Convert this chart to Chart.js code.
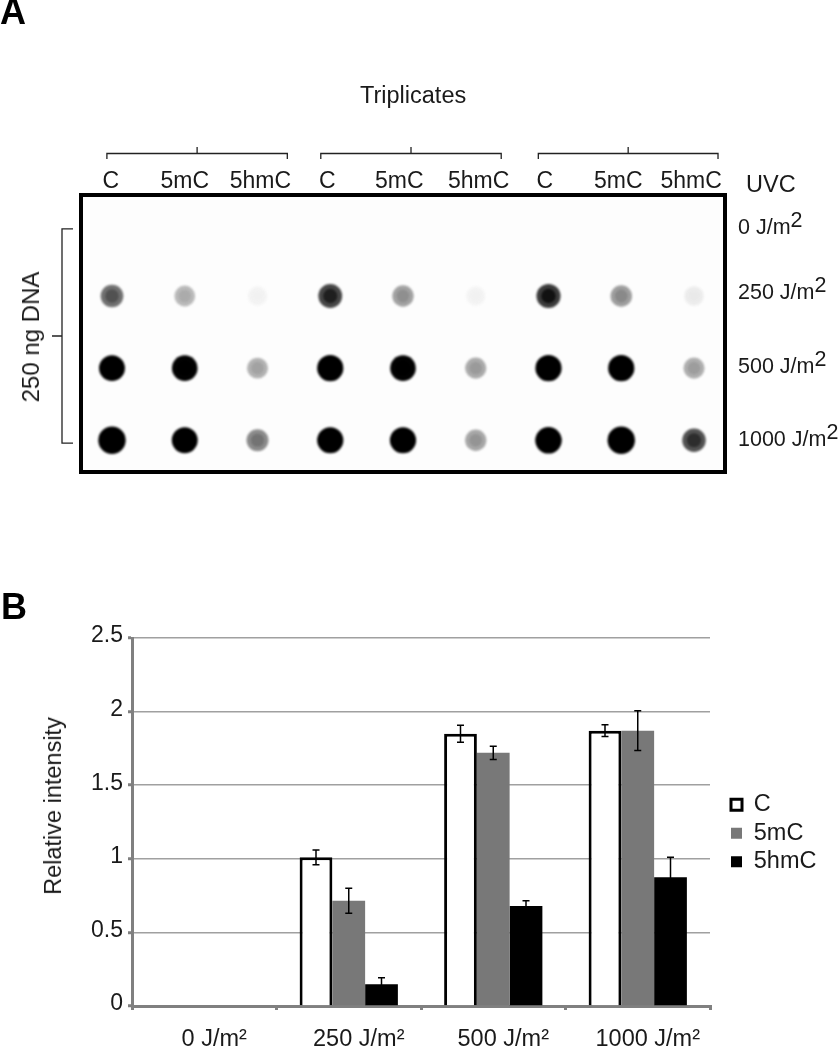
<!DOCTYPE html>
<html>
<head>
<meta charset="utf-8">
<title>Dot blot and relative intensity</title>
<script src="https://cdn.jsdelivr.net/npm/chart.js@4"></script>
<style>
    html, body { margin: 0; background: #fff; }
    #page { position: relative; width: 840px; height: 1050px; overflow: hidden; font-family: "Liberation Sans", Arial, sans-serif; color: #1a1a1a; }
    canvas { position: absolute; left: 0; }
    .note { position: absolute; font-size: 23.5px; line-height: 26px; white-space: nowrap; }
    .panel { position: absolute; font-size: 36px; line-height: 36px; font-weight: bold; color: #000; }
    .turn { transform: translate(-50%, -50%) rotate(-90deg); }
</style>
</head>
<body>
<div id="page">
    <canvas id="blot" width="840" height="500" style="top:0"></canvas>
    <canvas id="bars" width="840" height="550" style="top:500px"></canvas>
    <div class="panel" style="left:0;top:-6px">A</div>
    <div class="panel" style="left:1px;top:589px">B</div>
    <div class="note" style="left:360px;top:82px">Triplicates</div>
    <div class="note" style="left:746px;top:171px">UVC</div>
    <div class="note turn" style="left:31px;top:337px;font-size:24px">250 ng DNA</div>
    <div class="note turn" style="left:53px;top:806px">Relative intensity</div>
</div>

<script>
// panel A, dot signal per lane (1 = black, above 1 = saturated and wider)
const laneLabels = ['C', '5mC', '5hmC', 'C', '5mC', '5hmC', 'C', '5mC', '5hmC'];
const doseLabels = ['0 J/m', '250 J/m', '500 J/m', '1000 J/m'];
const signal0 = [0, 0, 0, 0, 0, 0, 0, 0, 0];
const signal250 = [0.62, 0.3, 0.05, 0.8, 0.4, 0.05, 0.85, 0.42, 0.08];
const signal500 = [1.15, 1.1, 0.33, 1.2, 1.1, 0.36, 1.2, 1.2, 0.35];
const signal1000 = [1.4, 1.15, 0.5, 1.2, 1.2, 0.38, 1.25, 1.4, 0.75];
const tripletLanes = [[0.93, 3.41], [3.87, 6.35], [6.86, 9.33]];

// labels in the figure sit a little off their lanes and rows
const laneLabelAt = [0.985, 2, 3.04, 3.96, 4.95, 6.04, 6.95, 7.96, 8.96];
const doseLabelAt = [0.06, 0.96, 1.98, 3];

// panel B
const categories = ['0 J/m²', '250 J/m²', '500 J/m²', '1000 J/m²'];
const valuesC = [0, 1.01, 1.85, 1.87];
const values5mC = [0, 0.715, 1.72, 1.87];
const values5hmC = [0, 0.147, 0.68, 0.875];
const errorC = [0, 0.05, 0.058, 0.04];
const error5mC = [0, 0.085, 0.045, 0.135];
const error5hmC = [0, 0.045, 0.035, 0.135];
const yTicks = [0, 0.5, 1, 1.5, 2, 2.5];

const FONT = '"Liberation Sans", Arial, sans-serif';
const INK = '#1a1a1a';

function grey(s) {
    var v = Math.round(255 * (1 - Math.min(s, 1)));
    return 'rgb(' + v + ',' + v + ',' + v + ')';
}

function blotLayer(values, row, size, gain, order) {
    return {
        data: values.map(function (s, i) { return {x: i + 1, y: row}; }),
        pointRadius: values.map(function (s) { return s ? (9.5 + 3 * s) * size : 0; }),
        pointBackgroundColor: values.map(function (s) { return grey(s * gain); }),
        pointBorderWidth: 0,
        order: order,
    };
}

var blotDatasets = [];
[signal0, signal250, signal500, signal1000].forEach(function (values, row) {
    blotDatasets.push(blotLayer(values, row, 1, 0.9, 2));
    blotDatasets.push(blotLayer(values, row, 0.6, 1.1, 1));
});

const blotPlugin = {
    id: 'blotPlugin',
    beforeDatasetsDraw: function (chart) {
        var a = chart.chartArea;
        chart.ctx.fillStyle = '#fdfdfd';
        chart.ctx.fillRect(a.left, a.top, a.width, a.height);
    },
    beforeDatasetDraw: function (chart) {
        chart.ctx.filter = 'blur(1.1px)';
    },
    afterDatasetDraw: function (chart) {
        chart.ctx.filter = 'none';
    },
    afterDraw: function (chart) {
        var ctx = chart.ctx, a = chart.chartArea, x = chart.scales.x, y = chart.scales.y;
        ctx.save();
        // frame
        ctx.strokeStyle = '#000';
        ctx.lineWidth = 4;
        ctx.strokeRect(a.left, a.top, a.width, a.height);

        // triplicate brackets
        ctx.strokeStyle = '#222';
        ctx.lineWidth = 1.3;
        tripletLanes.forEach(function (pair) {
            var l = x.getPixelForValue(pair[0]), r = x.getPixelForValue(pair[1]), mid = (l + r) / 2;
            ctx.beginPath();
            ctx.moveTo(l, 159);
            ctx.lineTo(l, 153.5);
            ctx.lineTo(r, 153.5);
            ctx.lineTo(r, 159);
            ctx.moveTo(mid, 153.5);
            ctx.lineTo(mid, 147);
            ctx.stroke();
        });

        // 250 ng DNA bracket spans the dose rows
        var top = y.getPixelForValue(0.07), bottom = y.getPixelForValue(3.04), mid = (top + bottom) / 2;
        ctx.beginPath();
        ctx.moveTo(73, top);
        ctx.lineTo(62, top);
        ctx.lineTo(62, bottom);
        ctx.lineTo(73, bottom);
        ctx.moveTo(62, mid);
        ctx.lineTo(52, mid);
        ctx.stroke();

        // large raised 2 of the J/m2 labels
        ctx.font = '21.5px ' + FONT;
        ctx.fillStyle = INK;
        ctx.textAlign = 'left';
        ctx.textBaseline = 'middle';
        y.ticks.forEach(function (tick, i) {
            var w = ctx.measureText(doseLabels[i]).width;
            ctx.fillText('2', a.right + 13 + w, y.getPixelForTick(i) - 7);
        });
        ctx.restore();
    },
};

new Chart(document.getElementById('blot'), {
    type: 'scatter',
    data: {datasets: blotDatasets},
    plugins: [blotPlugin],
    options: {
        responsive: false,
        animation: false,
        events: [],
        devicePixelRatio: 1,
        layout: {padding: {left: 81, bottom: 28}},
        plugins: {legend: {display: false}, tooltip: {enabled: false}},
        scales: {
            x: {
                position: 'top',
                min: 0.574,
                max: 9.426,
                afterBuildTicks: function (scale) {
                    scale.ticks = laneLabelAt.map(function (v) { return {value: v}; });
                },
                afterFit: function (scale) { scale.height = 195; },
                grid: {display: false, drawTicks: false},
                border: {display: false},
                ticks: {
                    autoSkip: false,
                    maxRotation: 0,
                    padding: 0,
                    color: INK,
                    font: {family: FONT, size: 23},
                    callback: function (v, i) { return laneLabels[i]; },
                },
            },
            y: {
                position: 'right',
                reverse: true,
                min: -0.4,
                max: 3.44,
                afterBuildTicks: function (scale) {
                    scale.ticks = doseLabelAt.map(function (v) { return {value: v}; });
                },
                afterFit: function (scale) { scale.width = 115; },
                grid: {display: false, drawTicks: false},
                border: {display: false},
                ticks: {
                    autoSkip: false,
                    padding: 13,
                    color: INK,
                    font: {family: FONT, size: 21.5},
                    callback: function (v, i) { return doseLabels[i]; },
                },
            },
        },
    },
});

const errorBars = {
    id: 'errorBars',
    afterDatasetsDraw: function (chart) {
        var ctx = chart.ctx, y = chart.scales.y;
        ctx.save();
        ctx.strokeStyle = '#000';
        ctx.lineWidth = 1.5;
        chart.data.datasets.forEach(function (ds, d) {
            chart.getDatasetMeta(d).data.forEach(function (bar, i) {
                if (!ds.error[i]) {
                    return;
                }
                var hi = y.getPixelForValue(ds.data[i] + ds.error[i]);
                var lo = y.getPixelForValue(ds.data[i] - ds.error[i]);
                ctx.beginPath();
                ctx.moveTo(bar.x, hi);
                ctx.lineTo(bar.x, lo);
                ctx.moveTo(bar.x - 3.5, hi);
                ctx.lineTo(bar.x + 3.5, hi);
                ctx.moveTo(bar.x - 3.5, lo);
                ctx.lineTo(bar.x + 3.5, lo);
                ctx.stroke();
            });
        });
        ctx.restore();
    },
};

// legend sits beside the plot, no room reserved for it
const legendSpot = {
    id: 'legendSpot',
    afterLayout: function (chart) {
        var lg = chart.legend, w = lg.width, h = lg.height;
        lg.left = 726;
        lg.right = 726 + w;
        lg.top = 288;
        lg.bottom = 288 + h;
    },
};

new Chart(document.getElementById('bars'), {
    type: 'bar',
    data: {
        labels: categories,
        datasets: [
            {label: 'C', data: valuesC, error: errorC, backgroundColor: '#fff', borderColor: '#000', borderWidth: 3, borderSkipped: 'bottom'},
            {label: '5mC', data: values5mC, error: error5mC, backgroundColor: '#787878', borderWidth: 0},
            {label: '5hmC', data: values5hmC, error: error5hmC, backgroundColor: '#000', borderWidth: 0},
        ],
    },
    plugins: [errorBars, legendSpot],
    options: {
        responsive: false,
        animation: false,
        events: [],
        devicePixelRatio: 1,
        categoryPercentage: 0.68,
        barPercentage: 1,
        layout: {padding: {top: 138, right: 130}},
        plugins: {
            tooltip: {enabled: false},
            legend: {
                position: 'chartArea',
                align: 'start',
                labels: {
                    boxWidth: 11,
                    boxHeight: 11,
                    padding: 5,
                    color: INK,
                    font: {family: FONT, size: 23.5},
                },
            },
        },
        scales: {
            x: {
                afterFit: function (scale) { scale.height = 44; },
                grid: {drawOnChartArea: false, color: '#808080', lineWidth: 3, tickLength: 4},
                border: {color: '#808080', width: 3},
                ticks: {
                    autoSkip: false,
                    maxRotation: 0,
                    padding: 15,
                    labelOffset: 10,
                    color: INK,
                    font: {family: FONT, size: 23.5},
                },
            },
            y: {
                min: 0,
                max: 2.5,
                afterBuildTicks: function (scale) {
                    scale.ticks = yTicks.map(function (v) { return {value: v}; });
                },
                afterFit: function (scale) { scale.width = 132; },
                grid: {color: '#a0a0a0', lineWidth: 1.5, tickColor: '#808080', tickWidth: 3, tickLength: 4},
                border: {color: '#808080', width: 3},
                ticks: {
                    padding: 5,
                    labelOffset: -2,
                    color: INK,
                    font: {family: FONT, size: 23},
                    callback: function (v) { return String(v); },
                },
            },
        },
    },
});
</script>
</body>
</html>
